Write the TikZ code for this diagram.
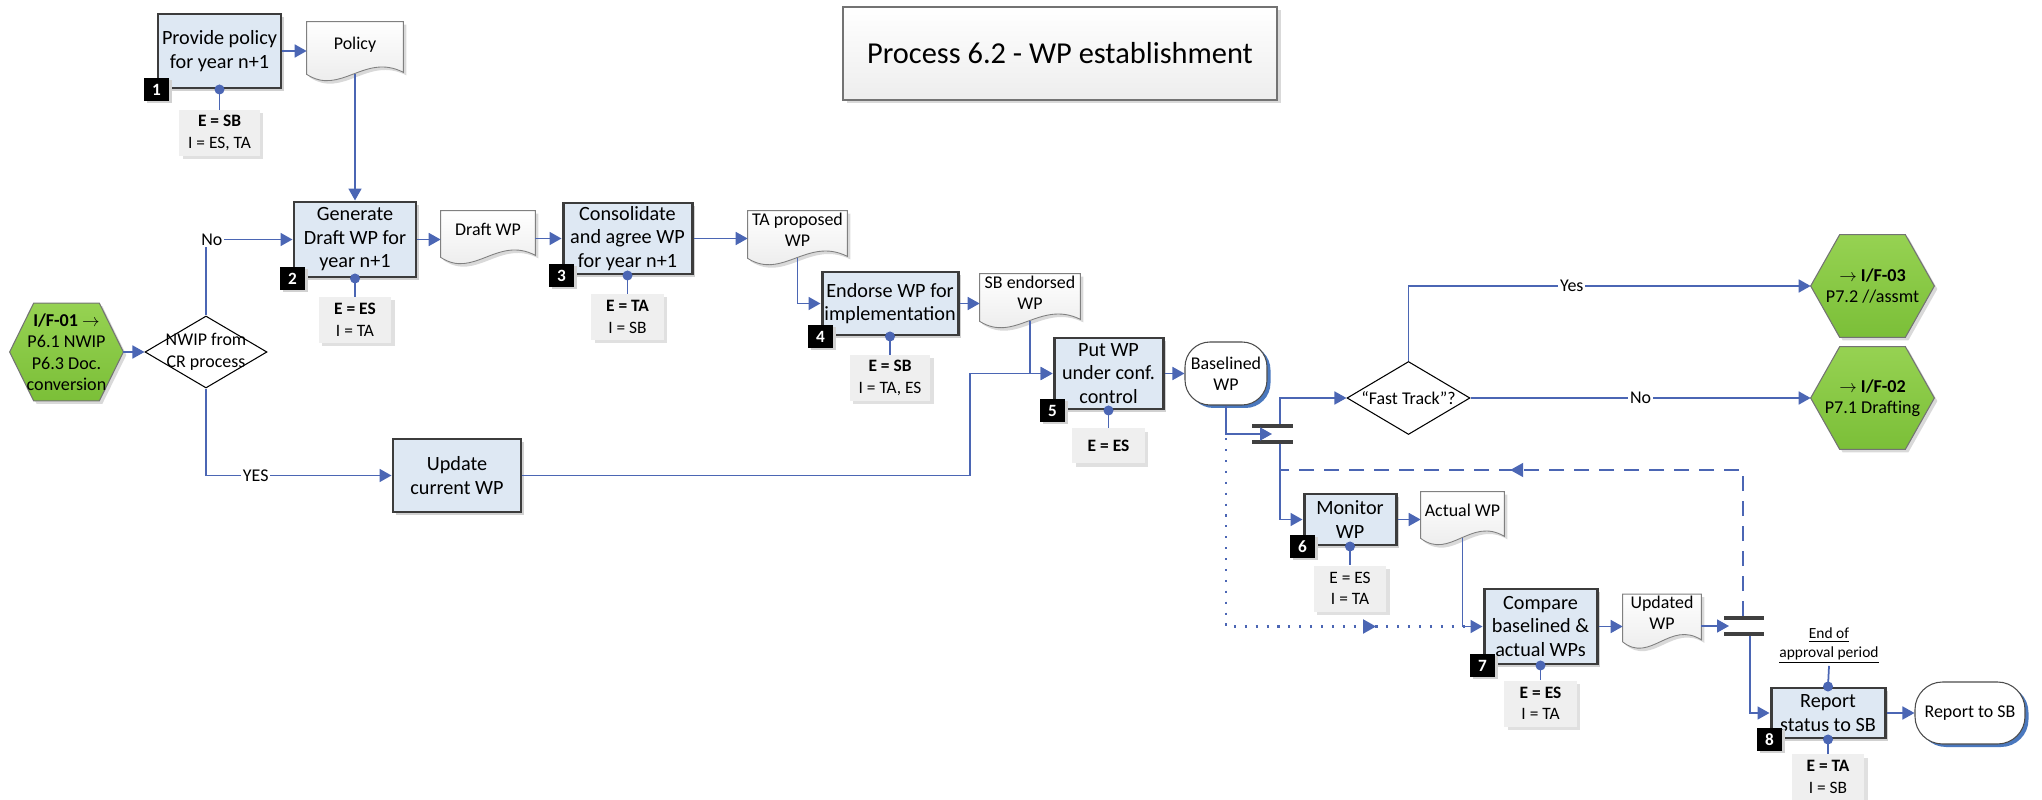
\documentclass[tikz,border=0pt]{standalone}
\usepackage{fontspec}
\setmainfont{Carlito}
\usepackage{xcolor}
\usepackage{tikz}
\usetikzlibrary{arrows.meta,shapes.geometric,shadows,backgrounds,decorations.markings,calc}
\definecolor{flowblue}{HTML}{4B66B4}
\definecolor{stepfill}{HTML}{DEE8F3}
\definecolor{stepline}{HTML}{3C3C3C}
\definecolor{notefill}{HTML}{EFEFEF}
\definecolor{hexlight}{HTML}{96D252}
\definecolor{hexdark}{HTML}{7BBF38}
\definecolor{termshadow}{HTML}{4A78BE}
\definecolor{barcolor}{HTML}{404040}

\tikzset{
  flow/.style={draw=flowblue, line width=1pt, -{Triangle[length=0.24cm, width=0.26cm]}},
  stem/.style={draw=flowblue, line width=1pt},
  dashflow/.style={draw=flowblue, line width=1.1pt, dash pattern=on 0.3cm off 0.2cm, decoration={markings, mark=at position #1 with {\arrow{Triangle[length=0.26cm, width=0.28cm]}}}, postaction={decorate}},
  dotflow/.style={draw=flowblue, line width=1.2pt, dash pattern=on 1.2pt off 5pt, decoration={markings, mark=at position #1 with {\arrow{Triangle[length=0.26cm, width=0.28cm]}}}, postaction={decorate}},
  stepbox/.style={rectangle, draw=stepline, line width=1.7pt, fill=stepfill, align=center, inner sep=1pt, font=\fontsize{11.5}{13.4}\selectfont, drop shadow={shadow xshift=0.06cm, shadow yshift=-0.06cm, fill=black!18, opacity=1}},
  numbadge/.style={rectangle, fill=black, text=white, minimum width=0.5cm, minimum height=0.46cm, inner sep=0pt, font=\bfseries\fontsize{9.8}{10}\selectfont, drop shadow={shadow xshift=0.05cm, shadow yshift=-0.05cm, fill=black!18, opacity=1}},
  rolenote/.style={rectangle, fill=notefill, align=center, minimum width=1.45cm, minimum height=0.92cm, inner xsep=0.18cm, inner ysep=1pt, font=\fontsize{9.9}{12.2}\selectfont, drop shadow={shadow xshift=0.07cm, shadow yshift=-0.07cm, fill=black!12, opacity=1}},
  docnode/.style={rectangle, align=center, inner sep=1pt, text depth=0.2cm, font=\fontsize{10.2}{12}\selectfont},
  docshape/.style={draw=black!50, line width=0.5pt, top color=white, bottom color=black!9, drop shadow={shadow xshift=0.06cm, shadow yshift=-0.06cm, fill=black!15, opacity=1}},
  hexnode/.style={rectangle, align=center, inner sep=0pt, font=\fontsize{10.3}{12.2}\selectfont},
  hexshape/.style={draw=black!55, line width=0.6pt, top color=hexlight, bottom color=hexdark, drop shadow={shadow xshift=0.06cm, shadow yshift=-0.06cm, fill=black!15, opacity=1}},
  decision/.style={diamond, draw=black, line width=0.6pt, fill=white, inner sep=0pt},
  decisiontext/.style={align=center, inner sep=0pt, font=\fontsize{10.2}{12.2}\selectfont},
  termnode/.style={rectangle, rounded corners=0.5cm, draw=black!70, line width=0.6pt, fill=white, align=center, font=\fontsize{10.2}{12}\selectfont, drop shadow={shadow xshift=0.07cm, shadow yshift=-0.06cm, fill=termshadow, opacity=1}},
  forkbar/.style={rectangle, fill=barcolor, minimum height=0.08cm, inner sep=0pt},
  titlebox/.style={rectangle, draw=black!55, line width=0.6pt, top color=white, bottom color=black!7, font=\fontsize{17.3}{20}\selectfont, drop shadow={shadow xshift=0.07cm, shadow yshift=-0.07cm, fill=black!15, opacity=1}},
  choice/.style={fill=white, inner sep=1pt, font=\fontsize{10.2}{11}\selectfont},
  endnote/.style={align=center, inner sep=1pt, font=\fontsize{8.8}{10.8}\selectfont}
}

\newcommand{\docoutline}[1]{%
  \path[docshape] (#1.north west) -- (#1.north east) -- ([yshift=0.04cm]#1.south east) .. controls ($(#1.south east)!0.4!(#1.south west)+(0,0.44)$) and ($(#1.south west)!0.35!(#1.south east)-(0,0.44)$) .. (#1.south west) -- cycle;}
\newcommand{\hexoutline}[2]{%
  \path[hexshape] (#1.west) -- ([xshift=#2]#1.north west) -- ([xshift=-#2]#1.north east) -- (#1.east) -- ([xshift=-#2]#1.south east) -- ([xshift=#2]#1.south west) -- cycle;}

\begin{document}
\begin{tikzpicture}%
\useasboundingbox (0, 0) rectangle (40.84, -16);%
\node[titlebox, minimum width=8.68cm, minimum height=1.86cm] (title) at (21.20, -1.07) {Process 6.2 - WP establishment};%
\node[stepbox, minimum width=2.46cm, minimum height=1.48cm] (box1) at (4.39, -1.02) {Provide policy\\for year n+1};%
\node[numbadge] (n1) at (box1.south west) {1};%
\node[rolenote] (lab1) at (4.39, -2.66) {\textbf{E = SB}\\I = ES, TA};%
\node[docnode, minimum width=1.92cm, minimum height=1.04cm] (policy) at (7.10, -0.96) {Policy};%
\node[stepbox, minimum width=2.44cm, minimum height=1.50cm] (box2) at (7.10, -4.79) {Generate\\Draft WP for\\year n+1};%
\node[numbadge] (n2) at (box2.south west) {2};%
\node[rolenote] (lab2) at (7.10, -6.40) {\textbf{E = ES}\\I = TA};%
\node[docnode, minimum width=1.88cm, minimum height=0.92cm] (draftwp) at (9.76, -4.68) {Draft WP};%
\node[stepbox, minimum width=2.58cm, minimum height=1.42cm] (box3) at (12.55, -4.77) {Consolidate\\and agree WP\\for year n+1};%
\node[numbadge] (n3) at (box3.south west) {3};%
\node[rolenote] (lab3) at (12.55, -6.34) {\textbf{E = TA}\\I = SB};%
\node[docnode, minimum width=1.98cm, minimum height=0.94cm] (taprop) at (15.95, -4.69) {TA proposed\\WP};%
\node[stepbox, minimum width=2.72cm, minimum height=1.26cm] (box4) at (17.80, -6.07) {Endorse WP for\\implementation};%
\node[numbadge] (n4) at (box4.south west) {4};%
\node[rolenote] (lab4) at (17.80, -7.56) {\textbf{E = SB}\\I = TA, ES};%
\node[docnode, minimum width=2.00cm, minimum height=0.90cm] (sbend) at (20.60, -5.95) {SB endorsed\\WP};%
\node[stepbox, minimum width=2.18cm, minimum height=1.42cm] (box5) at (22.17, -7.47) {Put WP\\under conf.\\control};%
\node[numbadge] (n5) at (box5.south west) {5};%
\node[rolenote, minimum height=0.7cm] (lab5) at (22.17, -8.91) {\textbf{E = ES}};%
\node[hexnode, minimum width=2.26cm, minimum height=1.94cm] (if01) at (1.33, -7.04) {\textbf{I/F-01 $\rightarrow$}\\P6.1 NWIP\\P6.3 Doc.\\conversion};%
\node[decision, minimum width=2.44cm, minimum height=1.44cm, label={[decisiontext]center:NWIP from\\CR process}] (nwip) at (4.12, -7.04) {};%
\node[stepbox, minimum width=2.56cm, minimum height=1.46cm] (update) at (9.14, -9.51) {Update\\current WP};%
\node[termnode, minimum width=1.64cm, minimum height=1.26cm] (baselined) at (24.52, -7.47) {Baselined\\WP};%
\node[decision, minimum width=2.46cm, minimum height=1.46cm, label={[decisiontext]center:“Fast Track”?}] (fast) at (28.17, -7.96) {};%
\node[hexnode, minimum width=2.46cm, minimum height=2.04cm] (if03) at (37.45, -5.72) {\textbf{$\rightarrow$ I/F-03}\\P7.2 //assmt};%
\node[hexnode, minimum width=2.46cm, minimum height=2.04cm] (if02) at (37.45, -7.96) {\textbf{$\rightarrow$ I/F-02}\\P7.1 Drafting};%
\node[forkbar, minimum width=0.82cm] (fork1a) at (25.45, -8.52) {};%
\node[forkbar, minimum width=0.82cm] (fork1b) at (25.45, -8.84) {};%
\node[stepbox, minimum width=1.84cm, minimum height=1.02cm] (monitor) at (27.00, -10.39) {Monitor\\WP};%
\node[numbadge] (n6) at (monitor.south west) {6};%
\node[rolenote] (lab6) at (27.00, -11.77) {E = ES\\I = TA};%
\node[docnode, minimum width=1.66cm, minimum height=0.92cm] (actual) at (29.25, -10.30) {Actual WP};%
\node[stepbox, minimum width=2.26cm, minimum height=1.50cm] (compare) at (30.81, -12.53) {Compare\\baselined \&\\actual WPs};%
\node[numbadge] (n7) at (compare.south west) {7};%
\node[rolenote] (lab7) at (30.81, -14.07) {\textbf{E = ES}\\I = TA};%
\node[docnode, minimum width=1.56cm, minimum height=0.80cm] (updated) at (33.24, -12.36) {Updated\\WP};%
\node[forkbar, minimum width=0.80cm] (fork2a) at (34.88, -12.36) {};%
\node[forkbar, minimum width=0.80cm] (fork2b) at (34.88, -12.68) {};%
\node[stepbox, minimum width=2.28cm, minimum height=1.00cm] (report) at (36.56, -14.26) {Report\\status to SB};%
\node[numbadge] (n8) at (report.south west) {8};%
\node[rolenote] (lab8) at (36.56, -15.54) {\textbf{E = TA}\\I = SB};%
\node[endnote] (eop) at (36.58, -12.92) {\underline{End of}\\\underline{approval period}};%
\node[termnode, rounded corners=0.55cm, minimum width=2.20cm, minimum height=1.24cm] (reportsb) at (39.40, -14.26) {Report to SB};%
\coordinate (upjoin) at (19.40, -7.47);%
\coordinate (f1in) at (25.44, -8.68);%
\coordinate (f1up) at (25.60, -8.48);%
\coordinate (f1dn) at (25.60, -8.88);%
\coordinate (loopend) at (25.60, -9.40);%
\coordinate (f2in) at (34.58, -12.52);%
\coordinate (f2up) at (34.86, -12.32);%
\coordinate (f2dn) at (35.00, -12.72);%
\begin{scope}[on background layer]
\docoutline{policy}%
\docoutline{draftwp}%
\docoutline{taprop}%
\docoutline{sbend}%
\docoutline{actual}%
\docoutline{updated}%
\hexoutline{if01}{0.48cm}%
\hexoutline{if03}{0.58cm}%
\hexoutline{if02}{0.58cm}%
\end{scope}
\draw[flow] (box1.east) -- (box1.east -| policy.west);%
\draw[flow] (policy.south) -- (box2.north);%
\draw[flow] (if01.east) -- (nwip.west);%
\draw[flow] (nwip.north) |- node[choice, pos=0.534] {No} (box2.west);%
\draw[flow] (nwip.south) |- node[choice, pos=0.634] {YES} (update.west);%
\draw[flow] (box2.east) -- (box2.east -| draftwp.west);%
\draw[flow] (draftwp.east |- box3.west) -- (box3.west);%
\draw[flow] (box3.east) -- (box3.east -| taprop.west);%
\draw[flow] (taprop.south) |- (box4.west);%
\draw[flow] (box4.east) -- (box4.east -| sbend.west);%
\draw[flow] (sbend.south) |- (box5.west);%
\draw[flow] (update.east) -| (upjoin) -- (box5.west);%
\draw[flow] (box5.east) -- (baselined.west);%
\draw[dotflow=0.777] (baselined.south) |- (compare.west);%
\draw[flow] (baselined.south) |- (f1in);%
\draw[flow] (f1up) |- (fast.west);%
\draw[flow] (fast.north) |- node[choice, pos=0.703] {Yes} (if03.west);%
\draw[flow] (fast.east) -- node[choice] {No} (if02.west);%
\draw[flow] (f1dn) |- (monitor.west);%
\draw[flow] (monitor.east) -- (monitor.east -| actual.west);%
\draw[flow] (actual.south) |- (compare.west);%
\draw[flow] (compare.east) -- (compare.east -| updated.west);%
\draw[flow] (updated.east |- f2in) -- (f2in);%
\draw[dashflow=0.622] (f2up) |- (loopend);%
\draw[flow] (f2dn) |- (report.west);%
\draw[flow] (report.east) -- (reportsb.west);%
\draw[stem] (box1.south) -- (lab1.north);%
\draw[stem] (box2.south) -- (lab2.north);%
\draw[stem] (box3.south) -- (lab3.north);%
\draw[stem] (box4.south) -- (lab4.north);%
\draw[stem] (box5.south) -- (lab5.north);%
\draw[stem] (monitor.south) -- (lab6.north);%
\draw[stem] (compare.south) -- (lab7.north);%
\draw[stem] (report.south) -- (lab8.north);%
\draw[stem] (report.north) -- (eop.south);%
\fill[flowblue] (box1.south) circle (0.1);%
\fill[flowblue] (box2.south) circle (0.1);%
\fill[flowblue] (box3.south) circle (0.1);%
\fill[flowblue] (box4.south) circle (0.1);%
\fill[flowblue] (box5.south) circle (0.1);%
\fill[flowblue] (monitor.south) circle (0.1);%
\fill[flowblue] (compare.south) circle (0.1);%
\fill[flowblue] (report.south) circle (0.1);%
\fill[flowblue] (report.north) circle (0.1);%
\end{tikzpicture}
\end{document}
